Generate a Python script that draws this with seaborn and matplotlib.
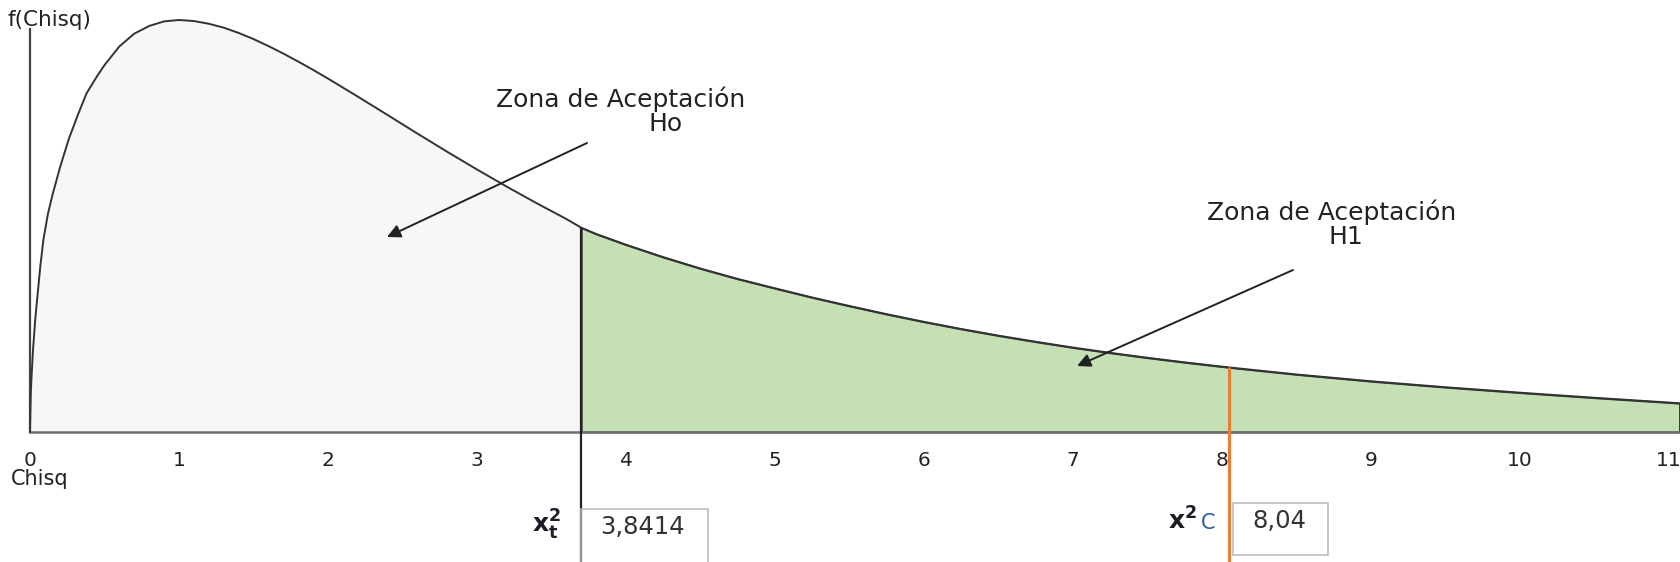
import numpy as np
import pandas as pd
import matplotlib
matplotlib.use("Agg")
import matplotlib.pyplot as plt
import seaborn as sns
from matplotlib.patches import Rectangle

# ---------------- data ----------------
chisq_x = [0.0, 0.005, 0.01, 0.02, 0.035, 0.05, 0.07, 0.09, 0.12, 0.15, 0.2,
           0.26, 0.32, 0.38, 0.45, 0.5, 0.6, 0.7, 0.8, 0.9, 1.0, 1.1, 1.2,
           1.3, 1.4, 1.5, 1.6, 1.7, 1.8, 1.9, 2.0, 2.2, 2.4, 2.6, 2.8, 3.0,
           3.2, 3.4, 3.6, 3.7, 3.8, 4.0, 4.25, 4.5, 4.75, 5.0, 5.25, 5.5,
           5.75, 6.0, 6.25, 6.5, 6.75, 7.0, 7.25, 7.5, 7.75, 8.0, 8.05, 8.5,
           9.0, 9.5, 10.0, 10.5, 11.0, 11.07]
density = [0.0, 0.022, 0.032, 0.048, 0.066, 0.080, 0.098, 0.113, 0.128, 0.139,
           0.155, 0.172, 0.186, 0.199, 0.209, 0.2155, 0.2265, 0.2340, 0.2385,
           0.2412, 0.2420, 0.2414, 0.2398, 0.2375, 0.2344, 0.2308, 0.2267,
           0.2223, 0.2176, 0.2127, 0.2076, 0.1970, 0.1862, 0.1753, 0.1646,
           0.1542, 0.1441, 0.1344, 0.1251, 0.1200, 0.1163, 0.1100, 0.1027,
           0.0960, 0.0899, 0.0844, 0.0790, 0.0740, 0.0692, 0.0647, 0.0605,
           0.0566, 0.0530, 0.0496, 0.0465, 0.0436, 0.0409, 0.0384, 0.0379,
           0.0338, 0.0298, 0.0263, 0.0231, 0.0201, 0.0173, 0.0169]
tick_values = list(range(12))
tick_labels = [str(v) for v in tick_values]
x_crit = 3.70            # where the rejection region starts (as drawn)
x_crit_label = "3,8414"
x_calc = 8.05            # calculated statistic (as drawn)
x_calc_label = "8,04"
zone_title = "Zona de Aceptación"
zone_h0 = "Ho"
zone_h1 = "H1"
x_axis_label = "Chisq"
y_axis_label = "f(Chisq)"

df = pd.DataFrame({"Chisq": chisq_x, "f": density})

# ---------------- style ----------------
sns.set_theme(style="white")
plt.rcParams["font.family"] = ["DejaVu Sans"]
plt.rcParams["mathtext.fontset"] = "dejavusans"

fig = plt.figure(figsize=(16.8, 5.62), dpi=100)
ax = fig.add_axes([0, 0, 1, 1])

# pixel-layout helpers (axes fill the whole figure)
X0_PX, PX_PER_UNIT = 30, 149.0
Y0_PX, PX_PER_F = 432, 412 / 0.242


def xd(px):
    return (px - X0_PX) / PX_PER_UNIT


def yd(py):
    return (Y0_PX - py) / PX_PER_F


ax.set_xlim(xd(0), xd(1680))
ax.set_ylim(yd(562), yd(0))

x = np.asarray(chisq_x)
y = np.asarray(density)

# gray acceptance area under the whole curve
ax.fill_between(x, 0, y, color="#f7f7f7", lw=0, zorder=1)
# green rejection area
m = x >= x_crit
ax.fill_between(x[m], 0, y[m], facecolor="#c5e0b4", edgecolor="#3a3a3a",
                lw=1.3, zorder=2)

# the density curve
sns.lineplot(data=df, x="Chisq", y="f", ax=ax, color="#333333", lw=1.4,
             estimator=None, sort=False, zorder=4)
ax.set_xlabel("")
ax.set_ylabel("")

# axes
for s in ("top", "right"):
    ax.spines[s].set_visible(False)
ax.spines["bottom"].set_position(("data", 0))
ax.spines["bottom"].set_bounds(0, xd(1680))
ax.spines["bottom"].set_color("#6e6e6e")
ax.spines["bottom"].set_linewidth(1.8)
ax.spines["left"].set_position(("data", 0))
ax.spines["left"].set_bounds(0, yd(29))
ax.spines["left"].set_color("#444444")
ax.spines["left"].set_linewidth(1.6)
ax.set_xticks(tick_values)
ax.set_xticklabels(tick_labels)
ax.set_yticks([])
ax.tick_params(axis="x", direction="out", length=9.5, width=1.3,
               color="#7a7a7a", pad=4, labelsize=14.5, labelcolor="#222222")

# critical value line and calculated statistic line
y_crit = np.interp(x_crit, x, y)
y_calc = np.interp(x_calc, x, y)
ax.vlines(x_crit, yd(562), y_crit, color="#222222", lw=1.6, zorder=5)
ax.vlines(x_calc, yd(562), y_calc, color="#ed7d31", lw=2.2, zorder=5)

# axis labels
ax.text(xd(8), yd(20), y_axis_label, ha="left", va="center", fontsize=15.5,
        color="#222222")
ax.text(xd(11), yd(479), x_axis_label, ha="left", va="center", fontsize=15,
        color="#222222")

# zone labels
zkw = dict(ha="center", va="center", fontsize=18, color="#222222")
ax.text(xd(621), yd(99), zone_title, **zkw)
ax.text(xd(666), yd(124), zone_h0, **zkw)
ax.text(xd(1332), yd(212), zone_title, **zkw)
ax.text(xd(1346), yd(237), zone_h1, **zkw)

# arrows
arrow_kw = dict(arrowstyle="-|>", mutation_scale=20, lw=1.4, color="#222222",
                shrinkA=0, shrinkB=0)
ax.annotate("", xy=(xd(387), yd(237)), xytext=(xd(587), yd(143)),
            arrowprops=arrow_kw, zorder=6)
ax.annotate("", xy=(xd(1077), yd(366)), xytext=(xd(1293), yd(270)),
            arrowprops=arrow_kw, zorder=6)

# value boxes
ax.add_patch(Rectangle((x_crit, yd(620)), xd(709) - xd(582),
                       yd(509) - yd(620), fill=False, ec="#b8b8b8", lw=1.1,
                       zorder=5))
ax.add_patch(Rectangle((xd(1233), yd(555)), xd(1328) - xd(1233),
                       yd(503) - yd(555), fill=False, ec="#b8b8b8", lw=1.1,
                       zorder=5))
ax.text(xd(643), yd(527), x_crit_label, ha="center", va="center",
        fontsize=17.5, color="#333333")
ax.text(xd(1279), yd(521), x_calc_label, ha="center", va="center",
        fontsize=17.5, color="#333333")

# chi-square symbols
ax.text(xd(546), yd(525), r"$\mathbf{x}_{\mathbf{t}}^{\mathbf{2}}$",
        ha="center", va="center", fontsize=18, color="#1c1c2a")
ax.text(xd(1182), yd(521), r"$\mathbf{x}^{\mathbf{2}}$", ha="center",
        va="center", fontsize=18, color="#1c1c2a")
ax.text(xd(1208), yd(523), "C", ha="center", va="center", fontsize=15,
        color="#2e5c9e")

fig.savefig("out.png", dpi=100)
